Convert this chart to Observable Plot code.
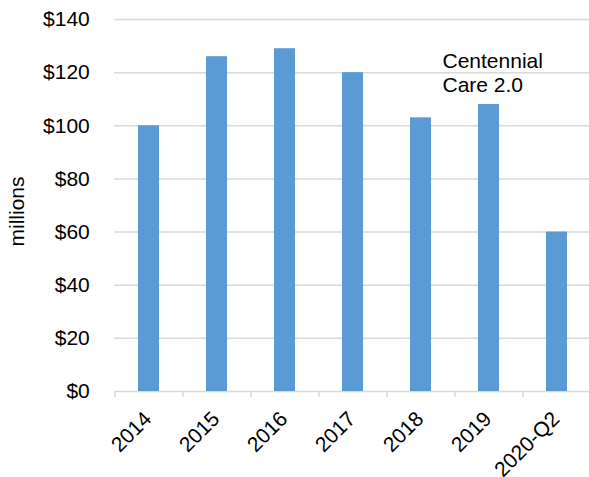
<!DOCTYPE html>
<html>
<head>
<meta charset="utf-8">
<script src="https://cdn.jsdelivr.net/npm/d3@7"></script>
<script src="https://cdn.jsdelivr.net/npm/@observablehq/plot@0.6"></script>
<style>
  html, body { margin: 0; padding: 0; background: #fff; overflow: hidden; }
</style>
</head>
<body>
<div id="chart"></div>
<script>
// Annual spending, in millions of dollars
const years = ["2014", "2015", "2016", "2017", "2018", "2019", "2020-Q2"];
const spending = [100, 126, 129, 120, 103, 108, 60];

// Value axis ticks and labels
const yTicks = [0, 20, 40, 60, 80, 100, 120, 140];
const yLabel = "millions";

// Program annotation near the 2019 bar
const noteText = "Centennial\nCare 2.0";
const noteYear = "2019";
const noteValue = 128.3;

const rows = years.map((year, i) => ({year, value: spending[i]}));

// Layout
const W = 589, H = 477;
const frameLeft = 114, frameRight = 591.5, frameTop = 19, frameBottom = 391;
const step = (frameRight - frameLeft) / years.length;
const ink = "#000";
const gridColor = "#d9d9d9";

const chart = Plot.plot({
  width: W,
  height: H,
  marginLeft: frameLeft,
  marginRight: W - frameRight,
  marginTop: frameTop,
  marginBottom: H - frameBottom,
  style: {
    fontFamily: "'Liberation Sans', Arial, Helvetica, sans-serif",
    fontSize: "21px",
    color: ink,
    background: "#fff"
  },
  x: {domain: years, paddingInner: 0.686, paddingOuter: 0.343, axis: null},
  y: {domain: [0, 140], axis: null},
  marks: [
    Plot.gridY(yTicks, {stroke: gridColor, strokeOpacity: 1, strokeWidth: 1.5}),
    Plot.barY(rows, {x: "year", y: "value", fill: "#5b9bd5"}),
    // category separators hanging below the baseline
    Plot.axisX({
      tickSize: 6,
      tickFormat: () => "",
      label: null,
      dx: -step / 2,
      stroke: gridColor,
      strokeWidth: 1.5,
      strokeOpacity: 1
    }),
    Plot.text(years, {
      x: d => d,
      frameAnchor: "bottom",
      rotate: -45,
      textAnchor: "end",
      lineAnchor: "middle",
      dx: -1,
      dy: 24,
      fill: ink
    }),
    Plot.axisY(yTicks, {
      tickSize: 0,
      tickPadding: 24.7,
      tickFormat: d => "$" + d,
      label: null,
      fill: ink
    }),
    Plot.text([yLabel], {
      frameAnchor: "left",
      rotate: -90,
      textAnchor: "middle",
      lineAnchor: "middle",
      dx: -97.4,
      dy: 6,
      fill: ink
    }),
    Plot.text([noteText], {
      x: () => noteYear,
      y: () => noteValue,
      textAnchor: "start",
      lineAnchor: "top",
      lineHeight: 1.16,
      dx: -46.5,
      fill: ink
    })
  ]
});

document.getElementById("chart").appendChild(chart);
</script>
</body>
</html>
